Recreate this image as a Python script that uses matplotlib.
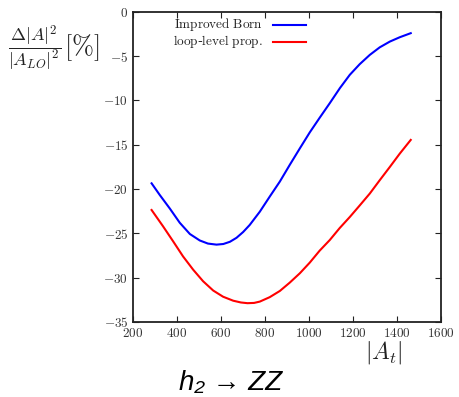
import numpy as np
import matplotlib
matplotlib.use('Agg')
import matplotlib.pyplot as plt
from matplotlib.ticker import FuncFormatter

plt.rcParams['mathtext.fontset'] = 'cm'

# |A_t| values and relative corrections in %
born_x = [284, 321, 367, 412, 458, 503, 540, 579, 610, 640, 670, 700, 730, 776,
          821, 867, 912, 958, 1003, 1048, 1094, 1140, 1185, 1230, 1276, 1321,
          1367, 1412, 1462]
born_y = [-19.35, -20.66, -22.2, -23.8, -25.07, -25.8, -26.15, -26.27, -26.2,
          -25.95, -25.5, -24.85, -24.05, -22.55, -20.85, -19.15, -17.27, -15.4,
          -13.6, -11.95, -10.3, -8.6, -7.1, -5.9, -4.85, -4.0, -3.35, -2.86, -2.4]

loop_x = [284, 336, 382, 427, 473, 518, 564, 609, 655, 690, 720, 750, 776, 821,
          867, 912, 958, 1003, 1048, 1094, 1139, 1185, 1230, 1276, 1321, 1367,
          1412, 1462]
loop_y = [-22.36, -24.2, -25.9, -27.6, -29.1, -30.4, -31.45, -32.15, -32.6,
          -32.8, -32.88, -32.85, -32.7, -32.2, -31.5, -30.56, -29.5, -28.3,
          -26.95, -25.75, -24.4, -23.15, -21.85, -20.5, -19.0, -17.5, -16.0,
          -14.45]

fig = plt.figure(figsize=(4.59, 3.97), dpi=100)
ax = fig.add_axes([0.290, 0.189, 0.671, 0.781])

ax.plot(born_x, born_y, color='#0000ff', lw=1.5)
ax.plot(loop_x, loop_y, color='#ff0000', lw=1.5)

# key, gnuplot style: text on the left, sample line on the right
labels = [r'$\mathrm{Improved\ Born}$', r'$\mathrm{loop}$-$\mathrm{level\ prop.}$']
colors = ['#0000ff', '#ff0000']
for i, (lab, col) in enumerate(zip(labels, colors)):
    yy = 0.958 - i * 0.055
    ax.text(0.422, yy, lab, transform=ax.transAxes, ha='right', va='center',
            fontsize=9.5, color='#222222')
    ax.plot([0.455, 0.562], [yy, yy], transform=ax.transAxes, color=col, lw=1.5)

ax.set_xlim(200, 1600)
ax.set_ylim(-35, 0)
ax.set_xticks(np.arange(200, 1601, 200))
ax.set_yticks(np.arange(-35, 1, 5))
fmt = FuncFormatter(lambda v, p: r'$%d$' % v)
ax.xaxis.set_major_formatter(fmt)
ax.yaxis.set_major_formatter(fmt)
ax.tick_params(direction='in', top=True, right=True, length=4, width=0.8,
               labelsize=9.5, colors='#222222', labelcolor='#333333')
for s in ax.spines.values():
    s.set_linewidth(1.3)
    s.set_color('#222222')

fig.text(0.017, 0.879, r'$\dfrac{\Delta|A|^2}{|A_{LO}|^2}$',
         fontsize=13, ha='left', va='center', color='#222222')
fig.text(0.139, 0.879, r'$[\%]$', fontsize=19, ha='left', va='center',
         color='#222222')
fig.text(0.837, 0.111, r'$|A_t|$', fontsize=17, ha='center', va='center',
         color='#222222')
fig.text(0.503, 0.035, 'h\u2082 \u2192 ZZ', fontsize=20, style='italic',
         family=['Liberation Sans', 'DejaVu Sans'], ha='center', va='center')

fig.savefig('out.png', dpi=100)
